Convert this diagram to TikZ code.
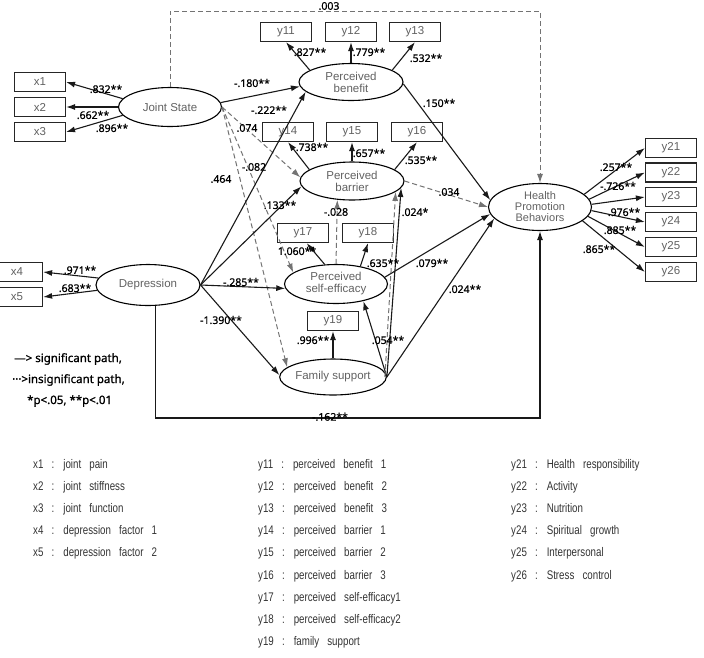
\documentclass[tikz,border=0pt]{standalone}
\usepackage{fontspec}
\setmainfont{Liberation Sans}
\newfontfamily\labfont[FakeBold=0.6]{Noto Sans}
\newfontfamily\legfont[FakeBold=1.2]{Noto Sans}
\newfontfamily\listfont[FakeStretch=0.78,WordSpace=3]{Liberation Sans}
\usetikzlibrary{shapes.geometric,arrows.meta}
\begin{document}
\begin{tikzpicture}[x=1pt,y=-1pt,
  lat/.style={ellipse,draw=black,line width=1.1pt,inner sep=0pt,text=black!62,font=\fontsize{11.5}{12}\selectfont,align=center},
  obs/.style={rectangle,draw=black!85,line width=1.2pt,minimum width=51pt,minimum height=19pt,inner sep=0pt,text=black!62,font=\fontsize{11.5}{12}\selectfont},
  sig/.style={draw=black!90,line width=1.1pt,-{Latex[length=9pt,width=6pt]}},
  ns/.style={draw=black!55,line width=1pt,dash pattern=on 5pt off 3pt,-{Latex[length=9pt,width=6pt]}},
  lab/.style={font=\labfont\fontsize{10.5}{12}\selectfont,inner sep=0pt},
  leg/.style={font=\legfont\fontsize{11.5}{13}\selectfont,inner sep=0pt,anchor=west},
  lst/.style={font=\listfont\fontsize{12.5}{15}\selectfont,text=black!80,inner sep=0pt,anchor=west},
]
\useasboundingbox (0,0) rectangle (704,657);

% observed variables
\node[obs] (x1) at (40,82) {x1};
\node[obs] (x2) at (40,107) {x2};
\node[obs] (x3) at (40,132) {x3};
\node[obs] (x4) at (17,272) {x4};
\node[obs] (x5) at (17,297) {x5};
\node[obs] (y11) at (286,32) {y11};
\node[obs] (y12) at (351,32) {y12};
\node[obs] (y13) at (415,32) {y13};
\node[obs] (y14) at (288,132) {y14};
\node[obs] (y15) at (352,132) {y15};
\node[obs] (y16) at (417,132) {y16};
\node[obs] (y17) at (303,233) {y17};
\node[obs] (y18) at (368,233) {y18};
\node[obs] (y19) at (333,321) {y19};
\node[obs] (y21) at (671,148) {y21};
\node[obs] (y22) at (671,172.5) {y22};
\node[obs] (y23) at (671,197) {y23};
\node[obs] (y24) at (671,222) {y24};
\node[obs] (y25) at (671,247) {y25};
\node[obs] (y26) at (671,272) {y26};

% latent variables
\node[lat,minimum width=103pt,minimum height=39pt] (js) at (170,107) {Joint State};
\node[lat,minimum width=104pt,minimum height=41pt] (dep) at (148,285) {Depression};
\node[lat,minimum width=104pt,minimum height=37pt] (pb) at (351,82) {Perceived\\benefit};
\node[lat,minimum width=104pt,minimum height=38pt] (pbr) at (352,181) {Perceived\\barrier};
\node[lat,minimum width=103pt,minimum height=39pt] (pse) at (336,284) {Perceived\\self-efficacy};
\node[lat,minimum width=104pt,minimum height=36pt] (fs) at (333,377) {Family support};
\node[lat,minimum width=103pt,minimum height=47pt,font=\fontsize{11}{11}\selectfont] (hpb) at (540,207) {Health\\Promotion\\Behaviors};

% measurement paths
\draw[sig] (js.170) -- (x1.east);
\draw[sig] (js.180) -- (x2.east);
\draw[sig] (js.190) -- (x3.east);
\draw[sig] (dep.172) -- (x4.east);
\draw[sig] (dep.186) -- (x5.east);
\draw[sig] (pb.164) -- (y11.south);
\draw[sig] (pb.north) -- (y12.south);
\draw[sig] (pb.16) -- (y13.south);
\draw[sig] (pbr.165) -- (y14.south);
\draw[sig] (pbr.north) -- (y15.south);
\draw[sig] (pbr.15) -- (y16.south);
\draw[sig] (pse.120) -- (y17.-70);
\draw[sig] (pse.36) -- (y18.south);
\draw[sig] (fs.north) -- (y19.south);
\draw[sig] (hpb.16) -- (y21.west);
\draw[sig] (hpb.9) -- (y22.west);
\draw[sig] (hpb.3) -- (y23.west);
\draw[sig] (hpb.-4) -- (y24.west);
\draw[sig] (hpb.-11) -- (y25.west);
\draw[sig] (hpb.-18) -- (y26.west);

% structural paths
\coordinate (tl) at (0,11);
\coordinate (bl) at (0,418);
\draw[ns] (js.north) -- (js.north |- tl) -- (hpb.north |- tl) -- (hpb.north);
\draw[sig] (dep.290) -- (dep.290 |- bl) -- (hpb.south |- bl) -- (hpb.south);
\draw[sig] (js.5) -- (pb.185);
\draw[ns] (js.east) -- (pbr.176);
\draw[ns] (js.east) -- (pse.165);
\draw[ns] (js.east) -- (fs.168);
\draw[sig] (dep.east) -- (pb.192);
\draw[sig] (dep.east) -- (pbr.186);
\draw[sig] (dep.east) -- (pse.185);
\draw[sig] (dep.east) -- (fs.178);
\draw[sig] (pb.358) -- (hpb.172);
\draw[ns] (pbr.east) -- (hpb.180);
\draw[sig] (pse.8) -- (hpb.188);
\draw[sig] (fs.east) -- (hpb.194);
\draw[sig] (fs.east) -- (pse.-32);
\draw[sig] (fs.east) -- (pbr.-8);
\draw[ns] ([xshift=-2pt]fs.east) -- (pbr.-14);
\draw[ns] (pse.north) -- (pbr.-128);

% path labels
\node[lab] (l1) at (106,89) {.832**};
\node[lab] (l2) at (93,115) {.662**};
\node[lab] (l3) at (112,128) {.896**};
\node[lab] (l4) at (80,270) {.971**};
\node[lab] (l5) at (75,288) {.683**};
\node[lab] (l6) at (329,6) {.003};
\node[lab] (l7) at (252,83) {-.180**};
\node[lab] (l8) at (269,110) {-.222**};
\node[lab] (l9) at (247,128) {.074};
\node[lab] (l10) at (254,167) {-.082};
\node[lab] (l11) at (221,179) {.464};
\node[lab] (l12) at (280,205) {.133**};
\node[lab] (l13) at (241,282) {-.285**};
\node[lab] (l14) at (221,320) {-1.390**};
\node[lab] (l15) at (310,52) {.827**};
\node[lab] (l16) at (369,52) {.779**};
\node[lab] (l17) at (426,58) {.532**};
\node[lab] (l18) at (439,103) {.150**};
\node[lab] (l19) at (312,147) {.738**};
\node[lab] (l20) at (369,153) {.657**};
\node[lab] (l21) at (421,160) {.535**};
\node[lab] (l22) at (449,192) {.034};
\node[lab] (l23) at (336,212) {-.028};
\node[lab] (l24) at (415,212) {.024*};
\node[lab] (l25) at (297,251) {1.060**};
\node[lab] (l26) at (383,263) {.635**};
\node[lab] (l27) at (432,263) {.079**};
\node[lab] (l28) at (465,289) {.024**};
\node[lab] (l29) at (313,340) {.996**};
\node[lab] (l30) at (388,340) {.054**};
\node[lab,anchor=south] (l31) at (330,421) {-.162**};
\node[lab] (l32) at (616,167) {.257**};
\node[lab] (l33) at (618,186) {-.726**};
\node[lab] (l34) at (624,212) {.976**};
\node[lab] (l35) at (620,230) {.885**};
\node[lab] (l36) at (599,249) {.865**};

% legend
\node[leg] (g1) at (14,359) {—> significant path,};
\node[leg] (g2) at (12,380) {···>insignificant path,};
\node[leg] (g3) at (27,401) {*p<.05, **p<.01};

% variable list
\node[lst] (a1) at (33,465) {x1 : joint pain};
\node[lst] (a2) at (33,487) {x2 : joint stiffness};
\node[lst] (a3) at (33,509) {x3 : joint function};
\node[lst] (a4) at (33,531) {x4 : depression factor 1};
\node[lst] (a5) at (33,553) {x5 : depression factor 2};
\node[lst] (b1) at (258,465) {y11 : perceived benefit 1};
\node[lst] (b2) at (258,487) {y12 : perceived benefit 2};
\node[lst] (b3) at (258,509) {y13 : perceived benefit 3};
\node[lst] (b4) at (258,531) {y14 : perceived barrier 1};
\node[lst] (b5) at (258,553) {y15 : perceived barrier 2};
\node[lst] (b6) at (258,576) {y16 : perceived barrier 3};
\node[lst] (b7) at (258,598) {y17 : perceived self-efficacy1};
\node[lst] (b8) at (258,620) {y18 : perceived self-efficacy2};
\node[lst] (b9) at (258,642) {y19 : family support};
\node[lst] (c1) at (511,465) {y21 : Health responsibility};
\node[lst] (c2) at (511,487) {y22 : Activity};
\node[lst] (c3) at (511,509) {y23 : Nutrition};
\node[lst] (c4) at (511,531) {y24 : Spiritual growth};
\node[lst] (c5) at (511,553) {y25 : Interpersonal};
\node[lst] (c6) at (511,576) {y26 : Stress control};
\end{tikzpicture}
\end{document}
